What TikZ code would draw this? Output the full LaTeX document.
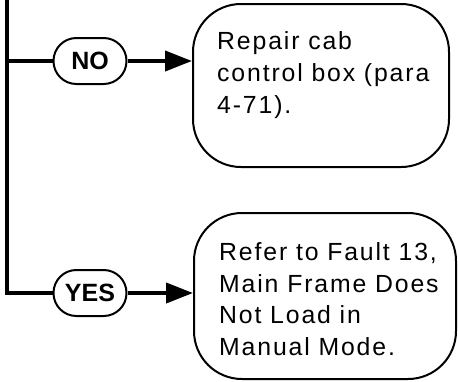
\documentclass[tikz,border=0pt]{standalone}
\usepackage{fontspec}
\setmainfont{Liberation Sans}
\newfontfamily\spacedfont[LetterSpace=7.5]{Liberation Sans}
\usetikzlibrary{arrows.meta}
\begin{document}
\begin{tikzpicture}[x=1pt,y=-1pt,
  box/.style={draw, line width=2pt, rounded corners=48pt, inner sep=0pt},
  pill/.style={draw, line width=2pt, rounded corners=22.9pt, minimum width=73pt, minimum height=46pt, inner sep=0pt, font=\fontsize{25}{25}\selectfont\bfseries},
  body/.style={anchor=base west, align=left, inner sep=0pt, font=\fontsize{24.8}{31.7}\spacedfont},
  conn/.style={line width=4pt},
  arr/.style={line width=4pt, -{Triangle[length=27pt,width=20pt]}}]
\useasboundingbox (0,0) rectangle (458,381);
\node[box, minimum width=256pt, minimum height=163pt] (b1) at (321,85.5) {};
\node[box, minimum width=262pt, minimum height=166pt] (b2) at (325,296) {};
\node[body] (t1) at (217,113) {Repair cab\\control box (para\\4-71).};
\node[body] (t2) at (219,355.5) {Refer to Fault 13,\\Main Frame Does\\Not Load in\\Manual Mode.};
\node[pill] (no) at (90,61) {NO};
\node[pill] (yes) at (90,293) {YES};
\coordinate (top) at (7,0);
\coordinate (nojoin) at (7,61);
\draw[conn] (top) |- (yes.west);
\draw[conn] (nojoin) -- (no.west);
\draw[arr] (no.east) -- (no.east -| b1.west);
\draw[arr] (yes.east) -- (yes.east -| b2.west);
\end{tikzpicture}
\end{document}
